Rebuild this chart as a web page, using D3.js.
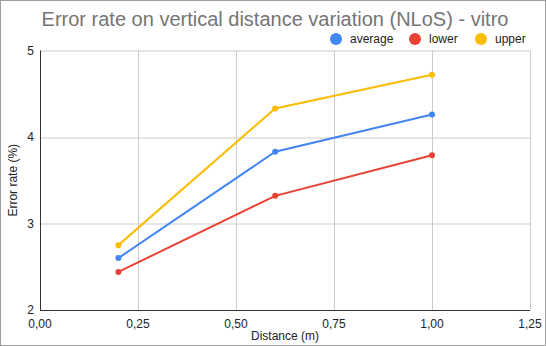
<!DOCTYPE html>
<html>
<head>
<meta charset="utf-8">
<script src="https://cdn.jsdelivr.net/npm/d3@7"></script>
<style>
  body { margin: 0; background: #fff; }
  svg { display: block; font-family: Arial, "Liberation Sans", sans-serif; }
</style>
</head>
<body>
<div id="chart"></div>
<script>
const distances = [0.2, 0.6, 1.0];
const average = [2.60, 3.83, 4.26];
const lower = [2.44, 3.32, 3.79];
const upper = [2.75, 4.33, 4.72];
const xTicks = [0, 0.25, 0.5, 0.75, 1.0, 1.25];
const yTicks = [2, 3, 4, 5];

const seriesList = [
  { name: "average", values: average, color: "#4285F4" },
  { name: "lower", values: lower, color: "#EA4335" },
  { name: "upper", values: upper, color: "#FBBC04" }
];

const W = 546, H = 346;
const margin = { top: 50.5, right: 16, bottom: 36, left: 40 };
const width = W - margin.left - margin.right,
      height = H - margin.top - margin.bottom;

const svg = d3.select("#chart")
  .append("svg")
  .attr("width", W)
  .attr("height", H);

svg.append("rect")
  .attr("x", 0.5).attr("y", 0.5)
  .attr("width", W - 1).attr("height", H - 1)
  .attr("fill", "#fff")
  .attr("stroke", "#9e9e9e");

const g = svg.append("g")
  .attr("transform", `translate(${margin.left},${margin.top})`);

const x = d3.scaleLinear().domain([0, 1.25]).range([0, width]);
const y = d3.scaleLinear().domain([2, 5]).range([height, 0]);

// grid
g.selectAll(".vgrid").data(xTicks.slice(1))
  .enter().append("line")
  .attr("x1", d => Math.round(x(d)) + 0.5).attr("x2", d => Math.round(x(d)) + 0.5)
  .attr("y1", 0).attr("y2", height)
  .attr("stroke", "#cccccc");

g.selectAll(".hgrid").data(yTicks.slice(1))
  .enter().append("line")
  .attr("x1", 0).attr("x2", width)
  .attr("y1", d => Math.round(y(d)) + 0.5).attr("y2", d => Math.round(y(d)) + 0.5)
  .attr("stroke", "#cccccc");

// axes baselines
g.append("line")
  .attr("x1", 0.5).attr("x2", 0.5).attr("y1", 0).attr("y2", height)
  .attr("stroke", "#333");
g.append("line")
  .attr("x1", 0).attr("x2", width).attr("y1", height + 0.5).attr("y2", height + 0.5)
  .attr("stroke", "#333");

const fmt = d => d3.format(".2f")(d).replace(".", ",");

g.selectAll(".xlab").data(xTicks)
  .enter().append("text")
  .attr("x", d => x(d))
  .attr("y", height + 18)
  .attr("text-anchor", "middle")
  .attr("font-size", 12)
  .attr("fill", "#222")
  .text(fmt);

g.selectAll(".ylab").data(yTicks)
  .enter().append("text")
  .attr("x", -6)
  .attr("y", d => y(d) + 4)
  .attr("text-anchor", "end")
  .attr("font-size", 12)
  .attr("fill", "#222")
  .text(d => d);

// axis titles
svg.append("text")
  .attr("x", margin.left + width / 2)
  .attr("y", 340)
  .attr("text-anchor", "middle")
  .attr("font-size", 12)
  .attr("fill", "#222")
  .text("Distance (m)");

svg.append("text")
  .attr("transform", `translate(17,${margin.top + height / 2}) rotate(-90)`)
  .attr("text-anchor", "middle")
  .attr("font-size", 12)
  .attr("fill", "#222")
  .text("Error rate (%)");

// title
svg.append("text")
  .attr("x", 275)
  .attr("y", 26)
  .attr("text-anchor", "middle")
  .attr("font-size", 20)
  .attr("fill", "#757575")
  .text("Error rate on vertical distance variation (NLoS) - vitro");

// lines
const line = d3.line()
  .x((d, i) => x(distances[i]))
  .y(d => y(d));

seriesList.forEach(s => {
  g.append("path")
    .datum(s.values)
    .attr("fill", "none")
    .attr("stroke", s.color)
    .attr("stroke-width", 2)
    .attr("d", line);

  g.selectAll(null).data(s.values)
    .enter().append("circle")
    .attr("cx", (d, i) => x(distances[i]))
    .attr("cy", d => y(d))
    .attr("r", 3)
    .attr("fill", s.color);
});

// legend
const legendX = [336, 415, 481];
const legend = svg.selectAll(".legend").data(seriesList)
  .enter().append("g")
  .attr("transform", (d, i) => `translate(${legendX[i]},39)`);

legend.append("circle")
  .attr("r", 6)
  .attr("fill", d => d.color);

legend.append("text")
  .attr("x", 14)
  .attr("y", 4)
  .attr("font-size", 12)
  .attr("fill", "#222")
  .text(d => d.name);
</script>
</body>
</html>
